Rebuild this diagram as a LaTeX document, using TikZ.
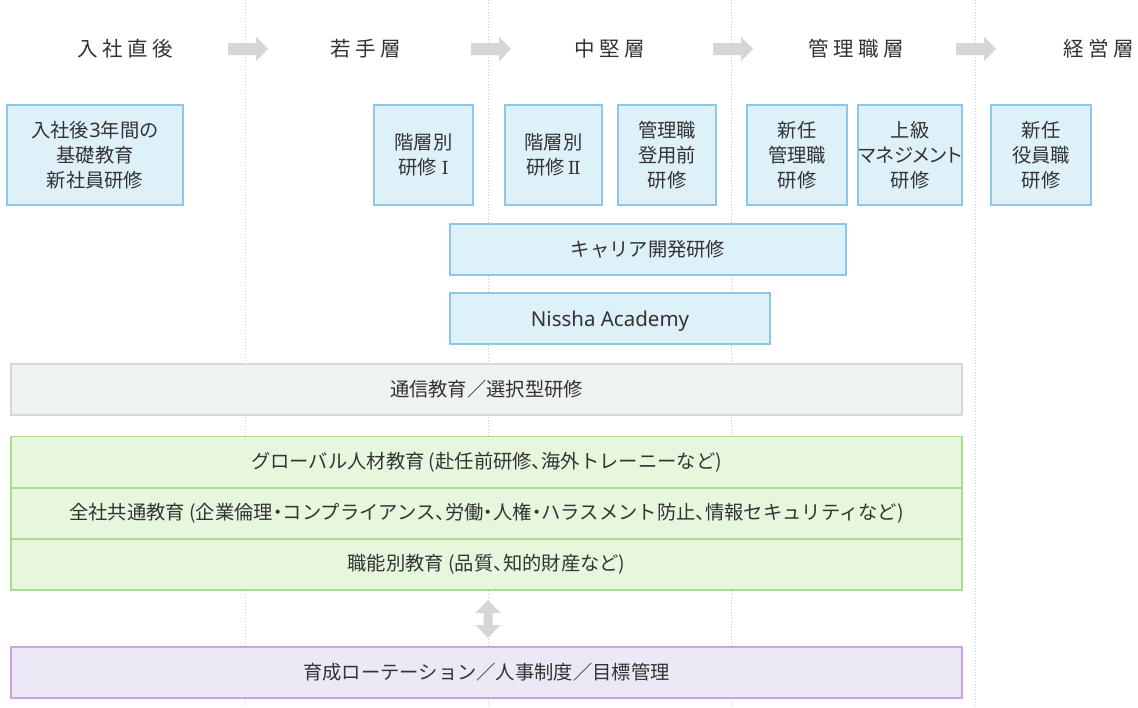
\documentclass[tikz,border=0pt]{standalone}
\usepackage{fontspec}
\setmainfont{Noto Sans CJK JP}
\newfontfamily\hdrfont[LetterSpace=22]{Noto Sans CJK JP}
\newfontfamily\pfont[RawFeature={+palt}]{Noto Sans CJK JP}
\newfontfamily\latfont{Noto Sans}
\newfontfamily\romfont{DejaVu Serif}
\newcommand\jdot{{\pfont ・}}
\newcommand\jcomma{{\pfont 、}}
\definecolor{txt}{HTML}{333333}
\definecolor{bluefill}{HTML}{DEF0F8}
\definecolor{blueline}{HTML}{8EC6E8}
\definecolor{grayfill}{HTML}{EEF2F2}
\definecolor{grayline}{HTML}{D3D9D9}
\definecolor{greenfill}{HTML}{E6F7DE}
\definecolor{greenline}{HTML}{A8DD90}
\definecolor{purplefill}{HTML}{ECE8F5}
\definecolor{purpleline}{HTML}{C7A5E0}
\definecolor{arrowgray}{HTML}{D6D6D6}
\definecolor{dotgray}{HTML}{CCCCCC}
\tikzset{
  base/.style={rectangle, line width=1.5pt, text=txt, inner sep=0pt, align=center,
    font=\fontsize{19.3}{25}\selectfont},
  bluebox/.style={base, draw=blueline, fill=bluefill, minimum height=100pt},
  bluebar/.style={base, draw=blueline, fill=bluefill, minimum height=51pt},
  graybar/.style={base, draw=grayline, fill=grayfill, minimum height=51pt, minimum width=951pt},
  greenbar/.style={base, draw=greenline, fill=greenfill, minimum height=51pt, minimum width=951pt},
  purplebar/.style={base, draw=purpleline, fill=purplefill, minimum height=51pt, minimum width=951pt},
  hdr/.style={text=txt, inner sep=0pt, font=\hdrfont\fontsize{20.5}{20.5}\selectfont},
  divider/.style={draw=dotgray, line width=1pt, dotted},
  hdrarrow/.pic={\fill[arrowgray] (-20,-6) -- (8,-6) -- (8,-12) -- (20,0) -- (8,12) -- (8,6) -- (-20,6) -- cycle;},
  dblarrow/.pic={\fill[arrowgray] (0,-19) -- (12.5,-6) -- (4.5,-6) -- (4.5,6) -- (12.5,6) -- (0,19) -- (-12.5,6) -- (-4.5,6) -- (-4.5,-6) -- (-12.5,-6) -- cycle;}
}
\begin{document}
\begin{tikzpicture}[x=1pt,y=-1pt]
\useasboundingbox[fill=white] (0,0) rectangle (1138,707);
% dotted dividers
\coordinate (d1t) at (245.5,0); \coordinate (d1b) at (245.5,707);
\coordinate (d2t) at (488,0); \coordinate (d2b) at (488,707);
\coordinate (d3t) at (731,0); \coordinate (d3b) at (731,707);
\coordinate (d4t) at (975,0); \coordinate (d4b) at (975,707);
\draw[divider] (d1t) -- (d1b);
\draw[divider] (d2t) -- (d2b);
\draw[divider] (d3t) -- (d3b);
\draw[divider] (d4t) -- (d4b);
% headers
\node[hdr] (h1) at (125,49) {入社直後};
\node[hdr] (h2) at (366,49) {若手層};
\node[hdr] (h3) at (610,49) {中堅層};
\node[hdr] (h4) at (856,49) {管理職層};
\node[hdr] (h5) at (1099,49) {経営層};
\pic at (248,49) {hdrarrow};
\pic at (491,49) {hdrarrow};
\pic at (733,49) {hdrarrow};
\pic at (976,49) {hdrarrow};
% blue boxes
\node[bluebox, minimum width=176pt] (b1) at (95,155) {入社後{\latfont\fontsize{20}{25}\selectfont 3}年間の\\基礎教育\\新社員研修};
\node[bluebox, minimum width=99pt] (b2) at (423.5,155) {階層別\\研修\hspace{5pt}{\romfont\fontsize{18}{25}\selectfont I}};
\node[bluebox, minimum width=97pt] (b3) at (553.5,155) {階層別\\研修\hspace{3pt}{\romfont\fontsize{18}{25}\selectfont I\kern-1.5pt I}};
\node[bluebox, minimum width=98pt] (b4) at (667,155) {管理職\\登用前\\研修};
\node[bluebox, minimum width=100pt] (b5) at (797,155) {新任\\管理職\\研修};
\node[bluebox, minimum width=100pt] (b6) at (910,155) {上級\\{\pfont マネジメント}\\研修};
\node[bluebox, minimum width=100pt] (b7) at (1041,155) {新任\\役員職\\研修};
\node[bluebar, minimum width=396pt] (career) at (648,249.5) {キャリア開発研修};
\node[bluebar, minimum width=320pt, text height=16.5pt, text depth=0pt, font=\latfont\fontsize{20.5}{25}\selectfont] (nissha) at (610,318.5) {Nissha Academy};
% wide bars
\node[graybar] (tsushin) at (486.5,389.5) {通信教育／選択型研修};
\node[greenbar] (g1) at (486.5,462) {グローバル人材教育 (赴任前研修\jcomma 海外トレーニーなど)};
\node[greenbar] (g2) at (486.5,513.5) {全社共通教育 (企業倫理\jdot コンプライアンス\jcomma 労働\jdot 人権\jdot ハラスメント防止\jcomma 情報セキュリティなど)};
\node[greenbar] (g3) at (486.5,564.5) {職能別教育 (品質\jcomma 知的財産など)};
\pic at (488,619) {dblarrow};
\node[purplebar] (rot) at (486.5,672.5) {育成ローテーション／人事制度／目標管理};
\end{tikzpicture}
\end{document}
